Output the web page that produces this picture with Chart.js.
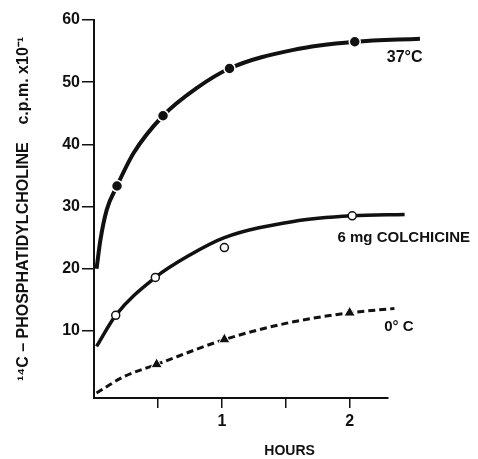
<!DOCTYPE html>
<html>
<head>
<meta charset="utf-8">
<script src="https://cdn.jsdelivr.net/npm/chart.js@4.4.1/dist/chart.umd.min.js"></script>
<style>
  html, body { margin: 0; padding: 0; background: #fff; }
  #wrap { width: 478px; height: 459px; }
</style>
</head>
<body>
<div id="wrap"><canvas id="c" width="478" height="459"></canvas></div>
<script>
// ---- data ----
const hours37 = [0.18, 0.54, 1.06, 2.04];
const cpm37 = [33.3, 44.6, 52.2, 56.5];
const hoursColch = [0.17, 0.48, 1.02, 2.02];
const cpmColch = [12.5, 18.6, 23.4, 28.5];
const hours0 = [0.49, 1.02, 2.0];
const cpm0 = [4.6, 8.6, 12.9];

// fitted curves as drawn in the figure
const curve37Hours = [0.02, 0.05, 0.1, 0.18, 0.31, 0.54, 0.8, 1.06, 1.56, 2.04, 2.55];
const curve37Cpm = [20, 24.6, 29.5, 33.3, 38.6, 44.6, 49, 52.2, 55.2, 56.5, 57];
const curveColchHours = [0.02, 0.17, 0.48, 0.75, 1.02, 1.56, 2.02, 2.43];
const curveColchCpm = [7.5, 12.5, 18.6, 22.2, 25, 27.6, 28.5, 28.7];
const curve0Hours = [0.02, 0.23, 0.49, 1.02, 1.5, 2.0, 2.35];
const curve0Cpm = [0, 2.6, 4.6, 8.6, 11.2, 12.9, 13.6];

const xTicks = [0.5, 1, 1.5, 2];
const xTickLabels = ['', '1', '', '2'];
const yTicks = [10, 20, 30, 40, 50, 60];
const seriesNames = ['37°C', '6 mg COLCHICINE', '0° C'];
const xTitle = 'HOURS';
const yTitle = '¹⁴C – PHOSPHATIDYLCHOLINE    c.p.m. x10⁻¹';

const pts = (xs, ys) => xs.map((v, i) => ({ x: v, y: ys[i] }));
const INK = '#111';
const FONT = '"Liberation Sans", Arial, sans-serif';

const labelPlugin = {
  id: 'curveLabels',
  afterDraw(chart) {
    const { ctx, scales: { x, y }, chartArea } = chart;
    ctx.save();
    ctx.fillStyle = INK;
    ctx.textBaseline = 'middle';
    ctx.font = 'bold 16px ' + FONT;
    ctx.textAlign = 'center';
    ctx.fillText(seriesNames[0], x.getPixelForValue(2.43), y.getPixelForValue(53.9));
    ctx.font = 'bold 15px ' + FONT;
    ctx.textAlign = 'left';
    ctx.fillText(seriesNames[1], x.getPixelForValue(1.905), y.getPixelForValue(24.9));
    ctx.fillText(seriesNames[2], x.getPixelForValue(2.27), y.getPixelForValue(10.6));
    ctx.font = 'bold 14px ' + FONT;
    ctx.textAlign = 'center';
    ctx.fillText(xTitle, x.getPixelForValue(1.53), chartArea.bottom + 53);
    ctx.restore();
  }
};

new Chart(document.getElementById('c'), {
  type: 'line',
  data: {
    datasets: [
      { data: pts(curve37Hours, curve37Cpm), borderColor: INK, borderWidth: 4, pointRadius: 0,
        cubicInterpolationMode: 'monotone', clip: false, order: 2 },
      { data: pts(curveColchHours, curveColchCpm), borderColor: INK, borderWidth: 3.5, pointRadius: 0,
        cubicInterpolationMode: 'monotone', clip: false, order: 2 },
      { data: pts(curve0Hours, curve0Cpm), borderColor: INK, borderWidth: 3, borderDash: [7, 4], pointRadius: 0,
        cubicInterpolationMode: 'monotone', clip: false, order: 2 },
      { data: pts(hours37, cpm37), showLine: false, pointStyle: 'circle', pointRadius: 5.5,
        pointBackgroundColor: INK, pointBorderColor: '#fff', pointBorderWidth: 1.5, clip: false, order: 0 },
      { data: pts(hoursColch, cpmColch), showLine: false, pointStyle: 'circle', pointRadius: 4,
        pointBackgroundColor: '#fff', pointBorderColor: INK, pointBorderWidth: 1.5, clip: false, order: 0 },
      { data: pts(hours0, cpm0), showLine: false, pointStyle: 'triangle', pointRadius: 6.5,
        pointBackgroundColor: INK, pointBorderColor: '#fff', pointBorderWidth: 1, clip: false, order: 0 }
    ]
  },
  options: {
    responsive: false,
    animation: false,
    events: [],
    layout: { padding: { left: 0, right: 90, top: 20, bottom: 0 } },
    plugins: { legend: { display: false }, tooltip: { enabled: false } },
    scales: {
      x: {
        type: 'linear', min: 0, max: 2.3,
        border: { color: INK, width: 2 },
        grid: { drawOnChartArea: false, drawTicks: true, tickLength: 10, color: INK, lineWidth: 1.5 },
        afterBuildTicks: s => { s.ticks = xTicks.map(v => ({ value: v })); },
        afterFit: s => { s.height = 61; },
        ticks: {
          autoSkip: false, maxRotation: 0, padding: 4, color: INK,
          font: { family: FONT, size: 16, weight: 'bold' },
          callback: (v) => { const i = xTicks.indexOf(v); return i >= 0 ? xTickLabels[i] : ''; }
        }
      },
      y: {
        type: 'linear', min: -0.8, max: 60,
        border: { color: INK, width: 2 },
        grid: { drawOnChartArea: false, drawTicks: true, tickLength: 12, color: INK, lineWidth: 1.5 },
        afterBuildTicks: s => { s.ticks = yTicks.map(v => ({ value: v })); },
        afterFit: s => { s.width = 94; },
        ticks: { padding: 2, color: INK, font: { family: FONT, size: 16, weight: 'bold' }, callback: v => String(v) },
        title: { display: true, text: yTitle, color: INK, font: { family: FONT, size: 16, weight: 'bold' }, padding: { top: 14, bottom: 0 } }
      }
    }
  },
  plugins: [labelPlugin]
});
</script>
</body>
</html>
